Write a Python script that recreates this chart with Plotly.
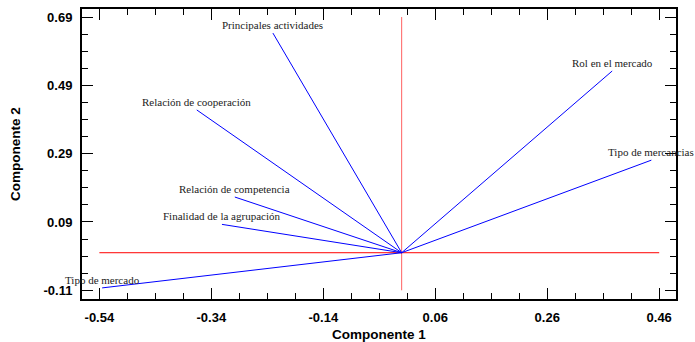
import plotly.graph_objects as go

variables = ["Principales actividades", "Relación de cooperación", "Rol en el mercado",
             "Tipo de mercancias", "Relación de competencia", "Finalidad de la agrupación",
             "Tipo de mercado"]
comp1 = [-0.230, -0.366, 0.376, 0.446, -0.298, -0.321, -0.535]
comp2 = [0.643, 0.418, 0.532, 0.271, 0.163, 0.083, -0.103]

x_ticks = [-0.54, -0.34, -0.14, 0.06, 0.26, 0.46]
x_ticktext = ["-0.54", "-0.34", "-0.14", "0.06", "0.26", "0.46"]
y_ticks = [-0.11, 0.09, 0.29, 0.49, 0.69]
y_ticktext = ["-0.11", "0.09", "0.29", "0.49", "0.69"]

fig = go.Figure()

# reference axes through origin
fig.add_trace(go.Scatter(x=[x_ticks[0], x_ticks[-1]], y=[0, 0], mode="lines",
                         line=dict(color="#ff0000", width=1), hoverinfo="skip", showlegend=False))
fig.add_trace(go.Scatter(x=[0, 0], y=[y_ticks[0], y_ticks[-1]], mode="lines",
                         line=dict(color="#ff6060", width=1), hoverinfo="skip", showlegend=False))

for name, cx, cy in zip(variables, comp1, comp2):
    fig.add_trace(go.Scatter(x=[0, cx], y=[0, cy], mode="lines",
                             line=dict(color="#0000ff", width=1), showlegend=False, name=name))
    fig.add_annotation(x=cx, y=cy, text=name, showarrow=False, xanchor="center",
                       yanchor="middle", yshift=8,
                       font=dict(family="Liberation Serif, Times New Roman, serif", size=11, color="#222222"))

tick_font = dict(family="Liberation Sans, Arial", size=13, color="black", weight="bold")
axis_common = dict(showgrid=False, zeroline=False, showline=True, linecolor="black",
                   linewidth=2, mirror="ticks", ticks="inside", ticklen=11, tickwidth=1,
                   tickcolor="black", automargin=False, tickfont=tick_font)

fig.update_xaxes(range=[-0.571, 0.490], tickvals=x_ticks, ticktext=x_ticktext,
                 ticklabelstandoff=5,
                 minor=dict(tick0=-0.54, dtick=0.05, ticks="inside", ticklen=6, tickcolor="black"),
                 **axis_common)
fig.update_yaxes(range=[-0.1355, 0.7135], tickvals=y_ticks, ticktext=y_ticktext,
                 ticklabelstandoff=5,
                 minor=dict(tick0=-0.11, dtick=0.05, ticks="inside", ticklen=6, tickcolor="black"),
                 **axis_common)

title_font = dict(family="Liberation Sans, Arial", size=13.5, color="black", weight="bold")
fig.add_annotation(xref="paper", yref="paper", x=0.5, y=0, yshift=-35, yanchor="middle",
                   text="Componente 1", showarrow=False, font=title_font)
fig.add_annotation(xref="paper", yref="paper", x=0, y=0.5, xshift=-67, xanchor="center",
                   text="Componente 2", showarrow=False, textangle=-90, font=title_font)

fig.update_layout(width=695, height=342, margin=dict(l=82, r=19, t=9, b=43),
                  plot_bgcolor="white", paper_bgcolor="white")

fig.write_html("out.html", config={"displayModeBar": False},
               post_script="document.body.style.margin='0';")
